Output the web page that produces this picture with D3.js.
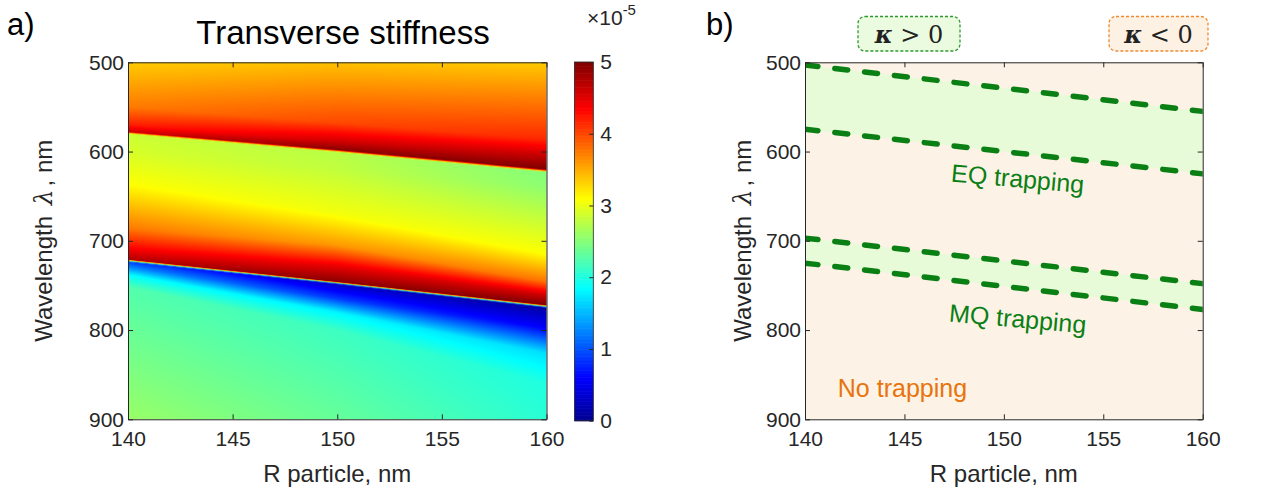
<!DOCTYPE html>
<html>
<head>
<meta charset="utf-8">
<script src="https://cdn.jsdelivr.net/npm/d3@7"></script>
<style>
  body { margin: 0; background: #fff; }
  svg { display: block; font-family: "Liberation Sans", Arial, sans-serif; }
</style>
</head>
<body>
<div id="chart"></div>
<script>
// ---- data ----
const rTicks = [140, 145, 150, 155, 160];
const lambdaTicks = [500, 600, 700, 800, 900];
const cbTicks = [0, 1, 2, 3, 4, 5];

// heatmap: profiles along wavelength at three particle radii (knots match feature by feature)
const heatColumnsR = [140, 150, 160];
const knotsLambda140 = [500, 550, 570, 578, 580, 600, 637, 686, 710, 721, 723.5, 730, 738, 752, 900];
const knotsValue140  = [3.35, 3.75, 4.2, 4.6, 2.85, 2.9, 3.1, 3.75, 4.4, 4.75, 0.9, 1.3, 1.85, 2.25, 2.6];
const knotsLambda150 = [500, 568, 589, 598, 600.5, 620, 670, 705, 728, 746, 748.5, 765, 780, 800, 900];
const knotsValue150  = [3.4, 4.0, 4.6, 4.95, 2.75, 2.8, 3.05, 3.6, 4.45, 4.95, 0.3, 0.9, 1.8, 2.15, 2.35];
const knotsLambda160 = [500, 586, 605, 620, 623, 640, 715, 746, 761, 772, 775, 798, 826, 860, 900];
const knotsValue160  = [3.35, 4.15, 4.65, 5.0, 2.5, 2.55, 3.1, 3.8, 4.6, 5.0, 0.1, 0.6, 1.7, 2.0, 2.05];

// trapping-region boundaries (right panel)
const lineR   = [140, 160];
const eqUpper = [503, 555];
const eqLower = [575, 625];
const mqUpper = [697, 748];
const mqLower = [725, 777];

// ---- layout ----
const width = 1270, height = 493;
const panelA = { x0: 128, x1: 546.5, y0: 62.3, y1: 419.3 };
const panelB = { x0: 805, x1: 1202.7, y0: 62.3, y1: 419.3 };
const cbar = { x0: 574.5, x1: 593.3, y0: 62, y1: 420.7 };
const axisColor = "#262626";

const svg = d3.select("#chart").append("svg")
  .attr("width", width)
  .attr("height", height);

svg.append("rect").attr("width", width).attr("height", height).attr("fill", "#fff");

// jet colormap
const jet = d3.scaleLinear()
  .domain([0, 0.6, 1.85, 3.1, 4.35, 5])
  .range(["#000090", "#0000ff", "#00ffff", "#ffff00", "#ff0000", "#800000"])
  .clamp(true);

// scales
const xA = d3.scaleLinear().domain([140, 160]).range([panelA.x0, panelA.x1]);
const yA = d3.scaleLinear().domain([500, 900]).range([panelA.y0, panelA.y1]);
const xB = d3.scaleLinear().domain([140, 160]).range([panelB.x0, panelB.x1]);
const yB = d3.scaleLinear().domain([500, 900]).range([panelB.y0, panelB.y1]);
const yC = d3.scaleLinear().domain([0, 5]).range([cbar.y1, cbar.y0]);

// ---- heatmap ----
const colLambda = [knotsLambda140, knotsLambda150, knotsLambda160];
const colValue = [knotsValue140, knotsValue150, knotsValue160];

function profileAt(r) {
  const k = r <= heatColumnsR[1] ? 0 : 1;
  const t = (r - heatColumnsR[k]) / (heatColumnsR[k + 1] - heatColumnsR[k]);
  const lam = d3.interpolate(colLambda[k], colLambda[k + 1])(t);
  const val = d3.interpolate(colValue[k], colValue[k + 1])(t);
  return d3.scaleLinear().domain(lam).range(val).clamp(true);
}

const hw = Math.round(panelA.x1 - panelA.x0);
const hh = Math.round(panelA.y1 - panelA.y0);
const canvas = document.createElement("canvas");
canvas.width = hw;
canvas.height = hh;
const ctx = canvas.getContext("2d");
const img = ctx.createImageData(hw, hh);
for (let i = 0; i < hw; i++) {
  const prof = profileAt(xA.invert(panelA.x0 + i + 0.5));
  for (let j = 0; j < hh; j++) {
    const c = d3.rgb(jet(prof(yA.invert(panelA.y0 + j + 0.5))));
    const p = (j * hw + i) * 4;
    img.data[p] = c.r; img.data[p + 1] = c.g; img.data[p + 2] = c.b; img.data[p + 3] = 255;
  }
}
ctx.putImageData(img, 0, 0);

svg.append("image")
  .attr("x", panelA.x0).attr("y", panelA.y0)
  .attr("width", panelA.x1 - panelA.x0).attr("height", panelA.y1 - panelA.y0)
  .attr("preserveAspectRatio", "none")
  .attr("href", canvas.toDataURL());

// ---- colorbar ----
const cbSteps = d3.range(0, 5, 5 / 256);
svg.append("g").selectAll("rect")
  .data(cbSteps)
  .join("rect")
  .attr("x", cbar.x0)
  .attr("width", cbar.x1 - cbar.x0)
  .attr("y", d => yC(d + 5 / 256))
  .attr("height", d => yC(d) - yC(d + 5 / 256) + 0.6)
  .attr("fill", d => jet(d + 2.5 / 256));

svg.append("rect")
  .attr("x", cbar.x0).attr("y", cbar.y0)
  .attr("width", cbar.x1 - cbar.x0).attr("height", cbar.y1 - cbar.y0)
  .attr("fill", "none").attr("stroke", axisColor).attr("stroke-width", 0.8);

const cbAxis = svg.append("g")
  .attr("transform", `translate(${cbar.x1},0)`)
  .call(d3.axisRight(yC).tickValues(cbTicks).tickFormat(d3.format("d"))
    .tickSize(-4).tickPadding(7).tickSizeOuter(0));
cbAxis.select(".domain").remove();
cbAxis.selectAll("line").attr("stroke", axisColor);
cbAxis.selectAll("text").attr("fill", axisColor).style("font-size", "21px");

const expo = svg.append("text")
  .attr("x", 587).attr("y", 25)
  .attr("fill", axisColor)
  .style("font-size", "21px");
expo.append("tspan").text("×10");
expo.append("tspan").attr("dy", -10).style("font-size", "15px").text("-5");

// ---- right panel: regions ----
svg.append("clipPath").attr("id", "clipB")
  .append("rect")
  .attr("x", panelB.x0).attr("y", panelB.y0)
  .attr("width", panelB.x1 - panelB.x0).attr("height", panelB.y1 - panelB.y0);

svg.append("rect")
  .attr("x", panelB.x0).attr("y", panelB.y0)
  .attr("width", panelB.x1 - panelB.x0).attr("height", panelB.y1 - panelB.y0)
  .attr("fill", "#fcf2e6");

const bandEQ = lineR.map((r, i) => ({ r, a: eqUpper[i], b: eqLower[i] }));
const bandMQ = lineR.map((r, i) => ({ r, a: mqUpper[i], b: mqLower[i] }));

const area = d3.area().x(d => xB(d.r)).y0(d => yB(d.a)).y1(d => yB(d.b));
const gB = svg.append("g").attr("clip-path", "url(#clipB)");
gB.append("path").datum(bandEQ).attr("d", area).attr("fill", "#e8fbd9");
gB.append("path").datum(bandMQ).attr("d", area).attr("fill", "#e8fbd9");

const line = d3.line().x(d => xB(d.r)).y(d => yB(d.v));
[eqUpper, eqLower, mqUpper, mqLower].forEach(arr => {
  gB.append("path")
    .datum(lineR.map((r, i) => ({ r, v: arr[i] })))
    .attr("d", line)
    .attr("fill", "none")
    .attr("stroke", "#0a7f14")
    .attr("stroke-width", 5.5)
    .attr("stroke-linecap", "round")
    .attr("stroke-dasharray", "13,17");
});

// labels inside right panel
const greenText = "#0a7f14";
function tiltedLabel(r, lam, txt) {
  svg.append("text")
    .attr("transform", `translate(${xB(r)},${yB(lam)}) rotate(5)`)
    .attr("text-anchor", "middle")
    .attr("dominant-baseline", "central")
    .attr("fill", greenText)
    .style("font-size", "25px")
    .text(txt);
}
tiltedLabel(150.7, 630, "EQ trapping");
tiltedLabel(150.7, 787, "MQ trapping");

svg.append("text")
  .attr("x", xB(141.65)).attr("y", yB(875))
  .attr("fill", "#e8740c")
  .style("font-size", "25px")
  .text("No trapping");

// ---- axes ----
function drawAxes(x, y) {
  const bottom = y.range()[1], top = y.range()[0];
  const left = x.range()[0], right = x.range()[1];
  const gBot = svg.append("g").attr("transform", `translate(0,${bottom})`)
    .call(d3.axisBottom(x).tickValues(rTicks).tickSize(-5).tickPadding(12).tickSizeOuter(0));
  const gTop = svg.append("g").attr("transform", `translate(0,${top})`)
    .call(d3.axisTop(x).tickValues(rTicks).tickSize(-5).tickFormat("").tickSizeOuter(0));
  const gLeft = svg.append("g").attr("transform", `translate(${left},0)`)
    .call(d3.axisLeft(y).tickValues(lambdaTicks).tickSize(-5).tickPadding(4).tickSizeOuter(0));
  const gRight = svg.append("g").attr("transform", `translate(${right},0)`)
    .call(d3.axisRight(y).tickValues(lambdaTicks).tickSize(-5).tickFormat("").tickSizeOuter(0));
  [gBot, gTop, gLeft, gRight].forEach(g => {
    g.selectAll("path, line").attr("stroke", axisColor).attr("stroke-width", 1);
    g.selectAll("text").attr("fill", axisColor).style("font-size", "21px")
      .style("font-family", "'Liberation Sans', Arial, sans-serif");
  });
}
drawAxes(xA, yA);
drawAxes(xB, yB);

// axis titles
function axisTitles(x, y, yLabelX) {
  svg.append("text")
    .attr("x", (x.range()[0] + x.range()[1]) / 2)
    .attr("y", 482)
    .attr("text-anchor", "middle")
    .attr("fill", axisColor)
    .style("font-size", "24px")
    .text("R particle, nm");

  const yl = svg.append("text")
    .attr("transform", `translate(${yLabelX},${(y.range()[0] + y.range()[1]) / 2}) rotate(-90)`)
    .attr("text-anchor", "middle")
    .attr("fill", axisColor)
    .style("font-size", "24px");
  yl.append("tspan").text("Wavelength ");
  yl.append("tspan").attr("dx", 4)
    .style("font-family", "'DejaVu Serif', serif").style("font-style", "italic")
    .style("font-size", "25px").text("λ");
  yl.append("tspan").attr("dx", 3).text(", nm");
}
axisTitles(xA, yA, 52);
axisTitles(xB, yB, 751);

// title and panel letters
svg.append("text")
  .attr("x", 343).attr("y", 44)
  .attr("text-anchor", "middle")
  .attr("fill", "#000")
  .style("font-size", "33px")
  .text("Transverse stiffness");

svg.append("text").attr("x", 7).attr("y", 35).style("font-size", "31px").attr("fill", "#000").text("a)");
svg.append("text").attr("x", 706).attr("y", 35).style("font-size", "31px").attr("fill", "#000").text("b)");

// kappa boxes
function kappaBox(x0, x1, stroke, fill, sign) {
  svg.append("rect")
    .attr("x", x0).attr("y", 16.5)
    .attr("width", x1 - x0).attr("height", 34.5)
    .attr("rx", 7)
    .attr("fill", fill)
    .attr("stroke", stroke)
    .attr("stroke-width", 1.3)
    .attr("stroke-dasharray", "3,2");
  const t = svg.append("text")
    .attr("x", (x0 + x1) / 2).attr("y", 43)
    .attr("text-anchor", "middle")
    .attr("fill", "#222")
    .style("font-family", "'DejaVu Serif', 'Liberation Serif', serif")
    .style("font-size", "24px");
  t.append("tspan").style("font-weight", "bold").style("font-style", "italic").text("κ");
  t.append("tspan").text(` ${sign} 0`);
}
kappaBox(858, 960, "#2e9a2e", "#eafbe0", ">");
kappaBox(1109, 1208, "#f08a30", "#fdf1e3", "<");
</script>
</body>
</html>
